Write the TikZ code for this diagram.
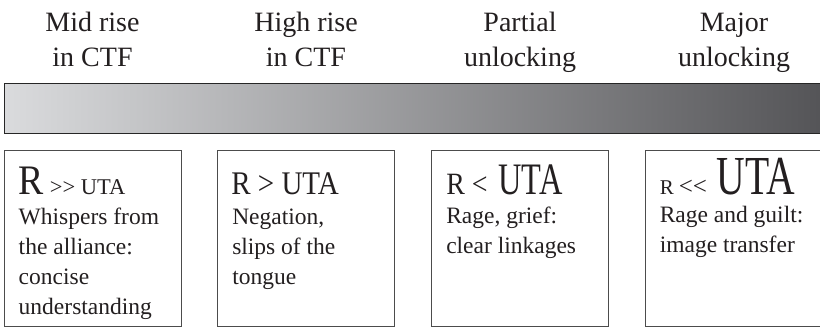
\documentclass[tikz,border=0pt]{standalone}
\usepackage{fontspec}
\setmainfont{Liberation Serif}
\usepackage{graphicx}
\usetikzlibrary{calc}
\definecolor{barlight}{RGB}{218,219,221}
\definecolor{bardark}{RGB}{84,84,87}
\definecolor{ink}{RGB}{35,31,32}
% sized (and horizontally squeezed) text
\newcommand{\sizedtext}[3][1]{\scalebox{#1}[1]{\fontsize{#2}{#2}\selectfont #3}}

\begin{document}
\begin{tikzpicture}[x=1pt,y=-1pt,
  stage/.style={draw=black!70,line width=0.9pt,minimum width=177pt,minimum height=176pt,inner sep=0pt},
  head/.style={align=center,anchor=base,inner sep=0pt,text=ink,font=\fontsize{28}{35}\selectfont},
  rel/.style={anchor=base west,inner sep=0pt,text=ink},
  desc/.style={anchor=base west,align=left,inner sep=0pt,text=ink,font=\fontsize{23.5}{30}\selectfont}]
  \useasboundingbox (0,0) rectangle (820,328);
  % gradient bar
  \node[draw=black!85,line width=1.1pt,left color=barlight,right color=bardark,
        minimum width=820pt,minimum height=50pt,inner sep=0pt,anchor=north west] (bar) at (4,83) {};
  % headings (base = last line)
  \node[head] (h1) at (92.5,67) {Mid rise\\in CTF};
  \node[head] (h2) at (306,67) {High rise\\in CTF};
  \node[head] (h3) at (520,67) {Partial\\unlocking};
  \node[head] (h4) at (734,67) {Major\\unlocking};
  % boxes
  \node[stage] (b1) at (92.5,238) {};
  \node[stage] (b2) at (306,238) {};
  \node[stage] (b3) at (520,238) {};
  \node[stage] (b4) at (733.5,238) {};
  % R vs UTA
  \node[rel] (r1) at ([shift={(15,45)}]b1.north west)
    {\sizedtext[0.9]{42}{R}\hspace{6pt}\sizedtext{22.5}{>{}> UTA}};
  \node[rel] (r2) at ([shift={(14,45)}]b2.north west)
    {\sizedtext[0.88]{33}{R > UTA}};
  \node[rel] (r3) at ([shift={(15,45)}]b3.north west)
    {\sizedtext[0.9]{31}{R <}\hspace{11pt}\sizedtext[0.72]{45}{UTA}};
  \node[rel] (r4) at ([shift={(15,45)}]b4.north west)
    {\sizedtext{21}{R}\hspace{5pt}\sizedtext{25}{<{}<}\hspace{10pt}\sizedtext[0.72]{55}{UTA}};
  % descriptions (base = last line)
  \node[desc] (d1) at ([shift={(15,165)}]b1.north west) {Whispers from\\the alliance:\\concise\\understanding};
  \node[desc] (d2) at ([shift={(15,135)}]b2.north west) {Negation,\\slips of the\\tongue};
  \node[desc] (d3) at ([shift={(15,104)}]b3.north west) {Rage, grief:\\clear linkages};
  \node[desc] (d4) at ([shift={(15,103)}]b4.north west) {Rage and guilt:\\image transfer};
\end{tikzpicture}
\end{document}
